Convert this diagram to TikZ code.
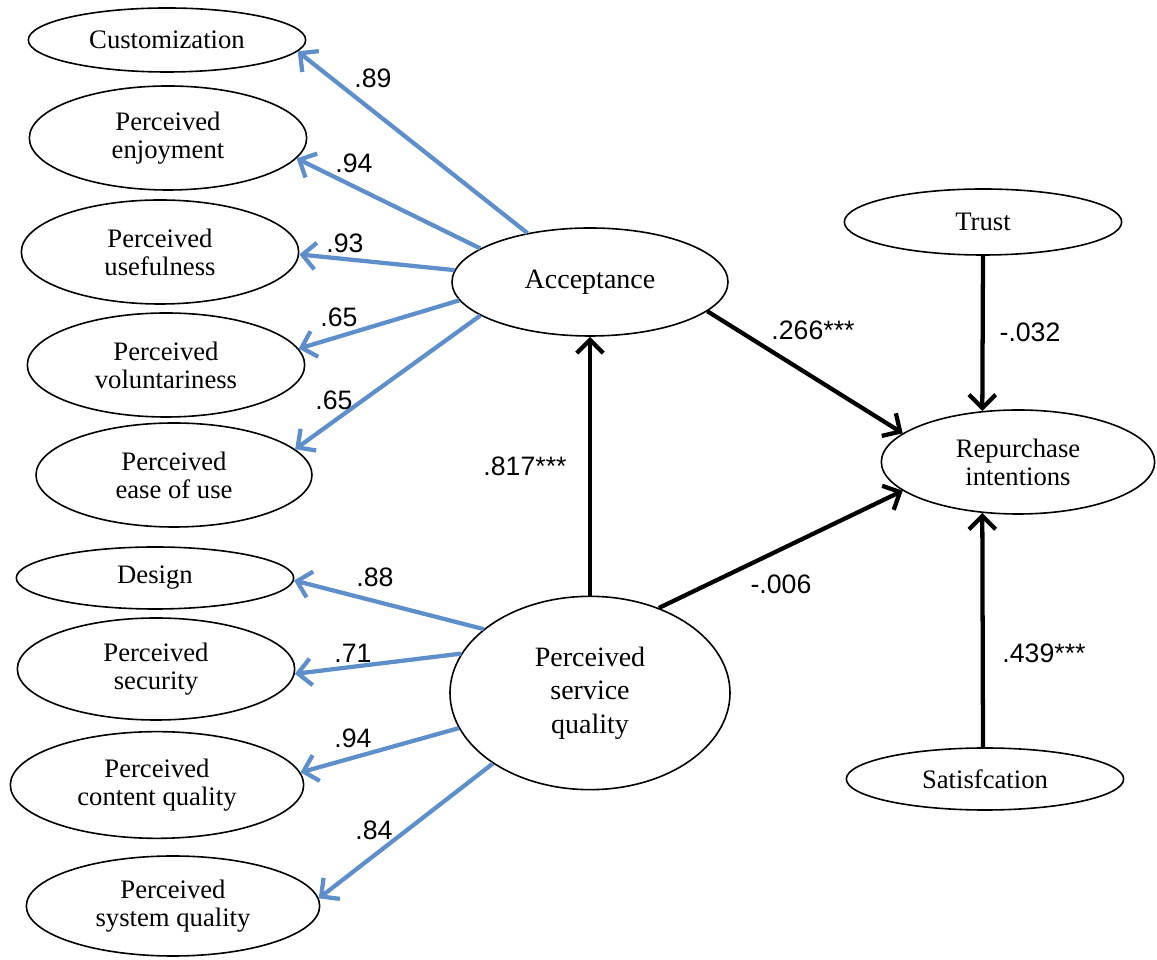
\documentclass[tikz,border=0pt]{standalone}
\usepackage{fontspec}
\setmainfont{Liberation Serif}
\newfontfamily\numfont{Liberation Sans}
\usetikzlibrary{shapes.geometric,arrows.meta}
\definecolor{loadblue}{RGB}{95,143,203}

\begin{document}
\begin{tikzpicture}[x=0.75pt,y=0.75pt,
	lv/.style={draw,ellipse,line width=1.2pt,inner sep=0pt,align=center,font=\fontsize{20}{21}\selectfont,minimum width=208pt,minimum height=78pt},
	flat/.style={minimum height=48pt},
	load/.style={draw=loadblue,line width=3.2pt,-{Straight Barb[length=10pt,width=20pt]}},
	effect/.style={draw=black,line width=3.2pt,-{Straight Barb[length=10pt,width=20pt]}},
	coef/.style={font=\numfont\fontsize{20}{24}\selectfont}]

		\useasboundingbox (0,0) rectangle (1157,960);

		% indicators of acceptance
		\node[lv,flat] (cust) at (167,920) {Customization};
		\node[lv] (enjoy) at (168,822) {Perceived\\enjoyment};
		\node[lv] (useful) at (160,708) {Perceived\\usefulness};
		\node[lv] (volun) at (166,595) {Perceived\\voluntariness};
		\node[lv,minimum width=207pt] (ease) at (174,485) {Perceived\\ease of use};

		% indicators of service quality
		\node[lv,flat,minimum height=46.5pt] (design) at (155,382) {Design};
		\node[lv,minimum height=76.5pt] (secur) at (156,291) {Perceived\\security};
		\node[lv,minimum width=220pt,minimum height=80pt] (content) at (157,175) {Perceived\\content quality};
		\node[lv,minimum width=220pt,minimum height=75pt] (system) at (173,54) {Perceived\\system quality};

		% constructs
		\node[lv,minimum width=207pt,minimum height=81pt,font=\fontsize{21}{22}\selectfont] (acc) at (590,678) {Acceptance};
		\node[lv,minimum width=210pt,minimum height=145pt,font=\fontsize{21}{25}\selectfont] (psq) at (590,267) {Perceived\\service\\quality};
		\node[lv,flat,minimum height=49.5pt] (trust) at (983,738) {Trust};
		\node[lv,minimum width=205pt] (rep) at (1018,498) {Repurchase\\intentions};
		\node[lv,flat,minimum height=46.5pt] (sat) at (985,181) {Satisfcation};

		\draw[load] (acc.142) -- (cust.-5);
		\draw[load] (acc.163) -- (enjoy.-9);
		\draw[load] (acc.175) -- (useful.-1);
		\draw[load] (acc.188) -- (volun.7);
		\draw[load] (acc.197) -- (ease.12);

		\draw[load] (psq.149) -- (design.-1);
		\draw[load] (psq.163) -- (secur.-2);
		\draw[load] (psq.195) -- (content.5);
		\draw[load] (psq.216) -- (system.3);

		\draw[effect] (psq.north) -- (acc.south);
		\draw[effect] (acc.-14) -- (rep.166);
		\draw[effect] (psq.51) -- (rep.194);
		\draw[effect] (trust.south) -- (rep.125);
		\draw[effect] (sat.north -| trust.south) -- (rep.235);

		\node[coef] (c1) at (373,882) {.89};
		\node[coef] (c2) at (354,797) {.94};
		\node[coef] (c3) at (345,717) {.93};
		\node[coef] (c4) at (339,643) {.65};
		\node[coef] (c5) at (334,560) {.65};
		\node[coef] (c6) at (375,383) {.88};
		\node[coef] (c7) at (353,307) {.71};
		\node[coef] (c8) at (353,222) {.94};
		\node[coef] (c9) at (374,130) {.84};
		\node[coef] (b1) at (525,494) {.817***};
		\node[coef] (b2) at (813,630) {.266***};
		\node[coef] (b3) at (781,376) {-.006};
		\node[coef] (b4) at (1030,628) {-.032};
		\node[coef] (b5) at (1044,307) {.439***};
	\end{tikzpicture}
\end{document}
